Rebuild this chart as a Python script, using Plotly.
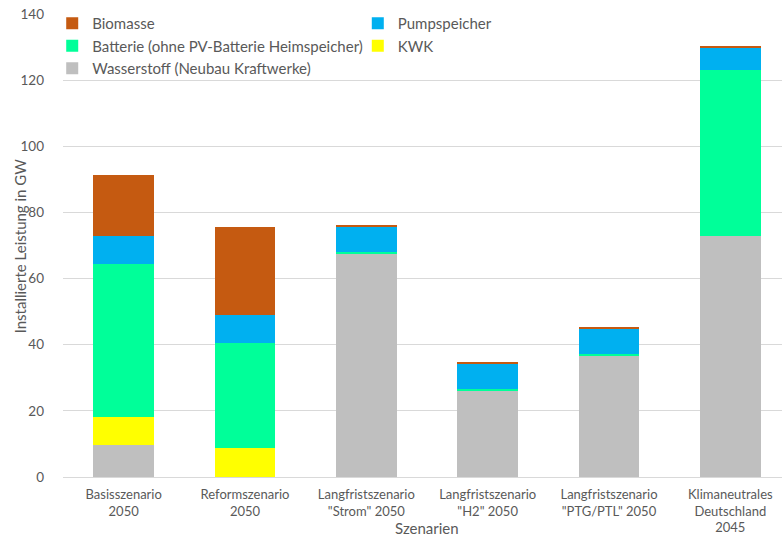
import plotly.graph_objects as go

# Szenarien (x-axis categories)
szenarien = [
    "Basisszenario<br>2050",
    "Reformszenario<br>2050",
    "Langfristszenario<br>\"Strom\" 2050",
    "Langfristszenario<br>\"H2\" 2050",
    "Langfristszenario<br>\"PTG/PTL\" 2050",
    "Klimaneutrales<br>Deutschland<br>2045",
]

# Installierte Leistung in GW je Technologie
wasserstoff = [9.7, 0.0, 67.5, 26.1, 36.7, 72.8]
kwk = [8.4, 8.8, 0.0, 0.0, 0.0, 0.0]
batterie = [46.4, 31.7, 0.5, 0.5, 0.5, 50.3]
pumpspeicher = [8.5, 8.5, 7.5, 7.7, 7.6, 6.6]
biomasse = [18.2, 26.6, 0.7, 0.6, 0.7, 0.7]

y_ticks = [0, 20, 40, 60, 80, 100, 120, 140]

FONT = "Lato"
TXT = "#595959"

# stacked bottom -> top; legend column and rank per series
series = [
    ("Wasserstoff (Neubau Kraftwerke)", wasserstoff, "#BFBFBF", "legend", 3),
    ("KWK", kwk, "#FFFF00", "legend2", 2),
    ("Batterie (ohne PV-Batterie Heimspeicher)", batterie, "#00FF99", "legend", 2),
    ("Pumpspeicher", pumpspeicher, "#00B0F0", "legend2", 1),
    ("Biomasse", biomasse, "#C55A11", "legend", 1),
]

fig = go.Figure()
for name, vals, color, leg, rank in series:
    fig.add_trace(go.Bar(
        x=szenarien, y=vals, name=name, legend=leg, legendrank=rank,
        marker=dict(color=color, line=dict(width=0)),
        width=0.5,
    ))

legend_style = dict(
    orientation="v", traceorder="normal",
    y=1.015, xanchor="left", yanchor="top",
    font=dict(family=FONT, size=15, color=TXT),
    itemwidth=30, bgcolor="rgba(255,255,255,0)",
)

fig.update_layout(
    barmode="stack",
    width=782, height=539,
    margin=dict(l=63, r=0, t=14, b=62),
    paper_bgcolor="white", plot_bgcolor="white",
    font=dict(family=FONT, color=TXT, size=13),
    showlegend=True,
    legend=dict(x=-0.015, **legend_style),
    legend2=dict(x=0.41, **legend_style),
    xaxis=dict(
        range=[-0.5, 5.426],
        showgrid=False, showline=True, linecolor="#D9D9D9", linewidth=1,
        ticks="", ticklabelstandoff=5,
        tickfont=dict(family=FONT, size=13, color=TXT),
        fixedrange=True,
    ),
    yaxis=dict(
        range=[0, 140], tickvals=y_ticks,
        showgrid=True, gridcolor="#D9D9D9", gridwidth=1,
        zeroline=False, showline=False,
        ticks="", ticklabelstandoff=18,
        tickfont=dict(family=FONT, size=13.5, color=TXT),
    ),
    annotations=[
        dict(text="Installierte Leistung in GW", xref="paper", yref="paper",
             x=-0.06, y=0.5, xanchor="center", yanchor="middle",
             textangle=-90, showarrow=False,
             font=dict(family=FONT, size=15, color=TXT)),
        dict(text="Szenarien", xref="paper", yref="paper",
             x=0.506, y=-0.11, xanchor="center", yanchor="middle",
             showarrow=False, font=dict(family=FONT, size=15, color=TXT)),
    ],
)

fig.write_html("out.html")
